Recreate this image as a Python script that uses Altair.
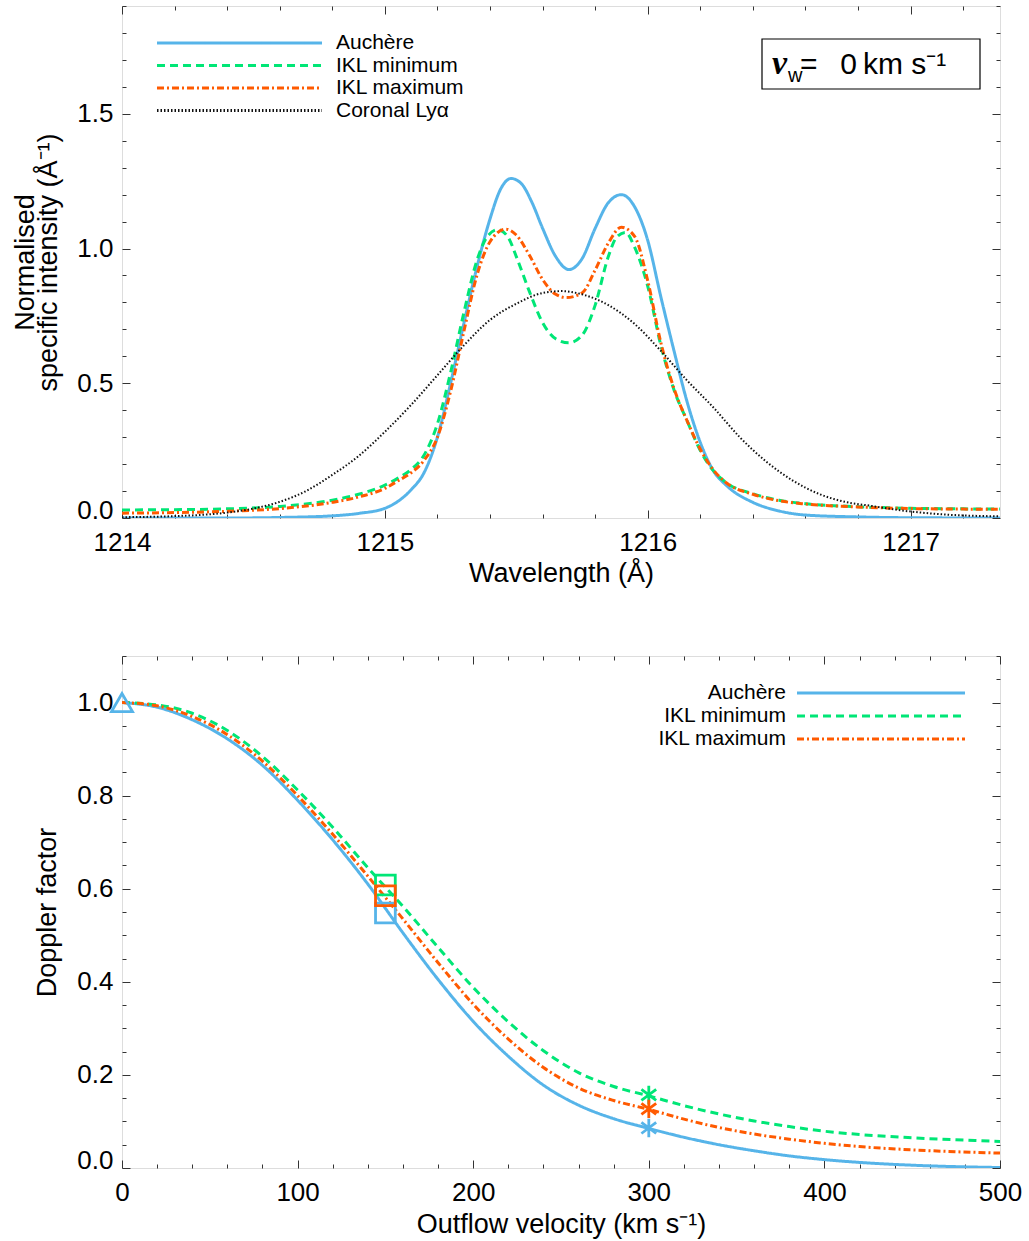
import altair as alt
import pandas as pd

FONT = "Liberation Sans"

# ---------------- top panel: line profiles ----------------
top_series = ["Auchère", "IKL minimum", "IKL maximum", "Coronal Lyα"]
top_colors = ["#56B4E9", "#00E676", "#FF5A00", "#111111"]
top_dashes = [[1, 0], [8, 5], [7, 3, 2, 3], [1.5, 2]]

auchere_wl = [1214.0, 1214.4, 1214.6, 1214.8, 1214.9, 1215.0, 1215.05, 1215.1, 1215.15, 1215.2,
              1215.25, 1215.3, 1215.35, 1215.4, 1215.44, 1215.48, 1215.52, 1215.56, 1215.6, 1215.65,
              1215.7, 1215.75, 1215.8, 1215.85, 1215.9, 1215.95, 1216.0, 1216.05, 1216.1, 1216.15,
              1216.2, 1216.25, 1216.3, 1216.4, 1216.5, 1216.6, 1216.8, 1217.0, 1217.34]
auchere_int = [0.0, 0.0, 0.002, 0.008, 0.017, 0.036, 0.062, 0.105, 0.17, 0.30,
               0.50, 0.72, 0.93, 1.11, 1.22, 1.26, 1.24, 1.17, 1.075, 0.97,
               0.922, 0.962, 1.075, 1.17, 1.20, 1.155, 1.03, 0.82, 0.62, 0.43,
               0.28, 0.175, 0.12, 0.058, 0.026, 0.011, 0.004, 0.001, 0.0]

iklmin_wl = [1214.0, 1214.2, 1214.4, 1214.6, 1214.8, 1214.9, 1215.0, 1215.05, 1215.1, 1215.15,
             1215.2, 1215.25, 1215.3, 1215.35, 1215.39, 1215.43, 1215.47, 1215.5, 1215.55, 1215.6,
             1215.65, 1215.7, 1215.75, 1215.8, 1215.85, 1215.88, 1215.915, 1215.95, 1216.0, 1216.05,
             1216.1, 1216.15, 1216.2, 1216.25, 1216.3, 1216.4, 1216.5, 1216.6, 1216.8, 1217.0,
             1217.2, 1217.34]
iklmin_int = [0.030, 0.031, 0.034, 0.043, 0.066, 0.088, 0.122, 0.148, 0.18, 0.235,
              0.35, 0.54, 0.76, 0.955, 1.045, 1.07, 1.04, 0.97, 0.84, 0.725,
              0.665, 0.65, 0.678, 0.79, 0.97, 1.04, 1.06, 1.005, 0.86, 0.64,
              0.475, 0.36, 0.25, 0.175, 0.13, 0.09, 0.066, 0.053, 0.042, 0.036,
              0.034, 0.033]

iklmax_wl = [1214.0, 1214.2, 1214.4, 1214.6, 1214.8, 1214.9, 1215.0, 1215.05, 1215.1, 1215.15,
             1215.2, 1215.25, 1215.3, 1215.35, 1215.4, 1215.46, 1215.5, 1215.55, 1215.6, 1215.65,
             1215.69, 1215.75, 1215.8, 1215.85, 1215.9, 1215.95, 1216.0, 1216.05, 1216.1, 1216.15,
             1216.2, 1216.25, 1216.3, 1216.4, 1216.5, 1216.6, 1216.8, 1217.0, 1217.2, 1217.34]
iklmax_int = [0.018, 0.020, 0.025, 0.035, 0.058, 0.078, 0.11, 0.138, 0.168, 0.215,
              0.30, 0.47, 0.69, 0.90, 1.025, 1.072, 1.05, 0.975, 0.885, 0.83,
              0.818, 0.835, 0.92, 1.02, 1.079, 1.045, 0.88, 0.65, 0.48, 0.36,
              0.255, 0.178, 0.13, 0.088, 0.064, 0.052, 0.041, 0.035, 0.033, 0.032]

corona_wl = [1214.0, 1214.2, 1214.4, 1214.5, 1214.6, 1214.7, 1214.8, 1214.9, 1215.0, 1215.1,
             1215.2, 1215.3, 1215.4, 1215.5, 1215.6, 1215.67, 1215.75, 1215.85, 1215.95, 1216.05,
             1216.15, 1216.25, 1216.35, 1216.45, 1216.55, 1216.65, 1216.75, 1216.85, 1216.95, 1217.1,
             1217.34]
corona_int = [0.003, 0.007, 0.02, 0.035, 0.06, 0.10, 0.16, 0.23, 0.32, 0.42,
              0.53, 0.64, 0.735, 0.795, 0.835, 0.842, 0.83, 0.79, 0.72, 0.62,
              0.51, 0.41, 0.30, 0.21, 0.14, 0.09, 0.06, 0.045, 0.03, 0.015,
              0.006]

# ---------------- bottom panel: Doppler factor ----------------
bot_series = ["Auchère", "IKL minimum", "IKL maximum"]
bot_colors = ["#56B4E9", "#00E676", "#FF5A00"]
bot_dashes = [[1, 0], [8, 5], [7, 3, 2, 3]]

velocity = [0, 20, 40, 60, 80, 100, 120, 140, 160, 180, 200, 220, 240, 260, 280, 300,
            320, 340, 360, 380, 400, 420, 450, 500]
dop_auchere = [1.0, 0.99, 0.963, 0.922, 0.865, 0.79, 0.705, 0.61, 0.505, 0.405, 0.315, 0.24,
               0.178, 0.135, 0.106, 0.085, 0.066, 0.05, 0.037, 0.026, 0.018, 0.012, 0.006, 0.001]
dop_iklmin = [1.0, 0.995, 0.977, 0.94, 0.884, 0.812, 0.732, 0.645, 0.562, 0.474, 0.388, 0.314,
              0.252, 0.205, 0.175, 0.155, 0.134, 0.116, 0.101, 0.089, 0.079, 0.072, 0.065, 0.057]
dop_iklmax = [1.0, 0.993, 0.97, 0.931, 0.874, 0.80, 0.717, 0.627, 0.535, 0.441, 0.352, 0.277,
              0.216, 0.172, 0.145, 0.126, 0.105, 0.087, 0.073, 0.062, 0.053, 0.046, 0.039, 0.032]

marker_series = ["Auchère", "Auchère", "IKL minimum", "IKL maximum", "Auchère", "IKL minimum", "IKL maximum"]
marker_kind = ["start", "mid", "mid", "mid", "end", "end", "end"]
marker_v = [0, 150, 150, 150, 300, 300, 300]
marker_d = [1.0, 0.548, 0.608, 0.585, 0.086, 0.157, 0.127]

# tick values
xt_vals = [1214.0, 1214.2, 1214.4, 1214.6, 1214.8, 1215.0, 1215.2, 1215.4, 1215.6, 1215.8,
           1216.0, 1216.2, 1216.4, 1216.6, 1216.8, 1217.0, 1217.2]
yt_vals = [0.0, 0.1, 0.2, 0.3, 0.4, 0.5, 0.6, 0.7, 0.8, 0.9, 1.0, 1.1, 1.2, 1.3, 1.4, 1.5,
           1.6, 1.7, 1.8, 1.9]
xb_vals = [0, 20, 40, 60, 80, 100, 120, 140, 160, 180, 200, 220, 240, 260, 280, 300,
           320, 340, 360, 380, 400, 420, 440, 460, 480, 500]
yb_vals = [0.0, 0.05, 0.1, 0.15, 0.2, 0.25, 0.3, 0.35, 0.4, 0.45, 0.5, 0.55, 0.6, 0.65, 0.7,
           0.75, 0.8, 0.85, 0.9, 0.95, 1.0, 1.05, 1.1]

annot_nu = ["ν"]
annot_sub = ["w"]
annot_rest = ["=\u00a0\u00a0\u20090\u2009km s⁻¹"]

W, H = 878, 512
MAJ, MIN = 8, 4
TICKC = "#333333"


def dash_cond(test, L):
    return {"condition": {"test": test, "value": [MAJ, L - 2 * MAJ, MAJ, L]},
            "value": [MIN, L - 2 * MIN, MIN, L]}


def mk_axis(values, major_test, label_fmt, length, title, **kw):
    base = dict(values=values,
                labelExpr=f"({major_test}) ? format(datum.value, '{label_fmt}') : ''",
                grid=True, gridDash=dash_cond(major_test, length), gridColor=TICKC,
                gridWidth=1, gridOpacity=1, ticks=False, domain=False,
                labelFlush=False, labelOverlap=False, labelBound=False,
                labelFontSize={"condition": {"test": major_test, "value": 26}, "value": 0},
                labelFont=FONT,
                labelColor="black", title=title, titleFontSize=27, titleFont=FONT,
                titleFontWeight="normal", titleColor="black")
    base.update(kw)
    return alt.Axis(**base)


def line_path(length, size):
    half = length / 2 / (size ** 0.5 / 2)
    return f"M{-half:.3f},0L{half:.3f},0"


# ---------- build top ----------
rows = []
for name, wl, it in [("Auchère", auchere_wl, auchere_int), ("IKL minimum", iklmin_wl, iklmin_int),
                     ("IKL maximum", iklmax_wl, iklmax_int), ("Coronal Lyα", corona_wl, corona_int)]:
    for a, b in zip(wl, it):
        rows.append({"series": name, "wl": a, "inten": b})
df_top = pd.DataFrame(rows)

int_test = "abs(datum.value - round(datum.value)) < 1e-6"
half_test = "abs(datum.value * 2 - round(datum.value * 2)) < 1e-6"
fifth_test = "abs(datum.value * 5 - round(datum.value * 5)) < 1e-6"
hund_test = "abs(datum.value / 100 - round(datum.value / 100)) < 1e-6"
zero_base = {"condition": {"test": "abs(datum.value) < 1e-9", "value": "alphabetic"}, "value": "middle"}

x_top = alt.X("wl:Q", scale=alt.Scale(domain=[1214, 1217.34], nice=False, zero=False),
              axis=mk_axis(xt_vals, int_test, "d", H, "Wavelength (Å)",
                           labelPadding=11, titleY=63, titleBaseline="alphabetic"))
y_top = alt.Y("inten:Q", scale=alt.Scale(domain=[0, 1.9], nice=False, zero=False),
              axis=mk_axis(yt_vals, half_test, ".1f", W,
                           ["Normalised", "specific intensity (Å⁻¹)"],
                           labelPadding=9, labelBaseline=zero_base,
                           titleX=-89, titleY=H / 2, titleAngle=270, titleAlign="center",
                           titleBaseline="alphabetic", titleLineHeight=23))

SYM = 324
leg_top = alt.Legend(title=None, orient="none", legendX=107, legendY=26.5,
                     symbolType=line_path(165, SYM), symbolSize=SYM, symbolStrokeWidth=3,
                     symbolFillColor="transparent",
                     labelFontSize=21, labelFont=FONT, labelColor="black", labelOffset=86,
                     rowPadding=0.5, padding=0, labelLimit=400)

color_top = alt.Color("series:N", scale=alt.Scale(domain=top_series, range=top_colors), legend=leg_top)
dash_top = alt.StrokeDash("series:N", scale=alt.Scale(domain=top_series, range=top_dashes), legend=leg_top)

lines_top = alt.Chart(df_top).transform_filter(alt.datum.series != "Coronal Lyα").mark_line(
    interpolate="monotone", strokeWidth=3, clip=True).encode(x=x_top, y=y_top, color=color_top, strokeDash=dash_top)
line_cor = alt.Chart(df_top).transform_filter(alt.datum.series == "Coronal Lyα").mark_line(
    interpolate="monotone", strokeWidth=2, clip=True).encode(x=x_top, y=y_top, color=color_top, strokeDash=dash_top)

box = alt.Chart(pd.DataFrame({"k": [0]})).mark_rect(fillOpacity=0, stroke="black", strokeWidth=1.2).encode(
    x=alt.value(640), x2=alt.value(858), y=alt.value(33), y2=alt.value(83))
t_nu = alt.Chart(pd.DataFrame({"t": annot_nu})).mark_text(
    font="Liberation Serif", fontStyle="italic", fontWeight="bold", fontSize=34, align="left",
    baseline="alphabetic", color="black").encode(text="t:N", x=alt.value(650), y=alt.value(68))
t_sub = alt.Chart(pd.DataFrame({"t": annot_sub})).mark_text(
    font=FONT, fontSize=20, align="left", baseline="alphabetic", color="black").encode(
    text="t:N", x=alt.value(666), y=alt.value(76))
t_rest = alt.Chart(pd.DataFrame({"t": annot_rest})).mark_text(
    font=FONT, fontSize=30, align="left", baseline="alphabetic", color="black").encode(
    text="t:N", x=alt.value(678), y=alt.value(68))

top = alt.layer(lines_top, line_cor, box, t_nu, t_sub, t_rest).properties(width=W, height=H)

# ---------- build bottom ----------
rows = []
for name, ds in [("Auchère", dop_auchere), ("IKL minimum", dop_iklmin), ("IKL maximum", dop_iklmax)]:
    for v, d in zip(velocity, ds):
        rows.append({"series": name, "v": v, "dop": d})
df_bot = pd.DataFrame(rows)
df_mk = pd.DataFrame({"series": marker_series, "kind": marker_kind, "v": marker_v, "dop": marker_d})

x_bot = alt.X("v:Q", scale=alt.Scale(domain=[0, 500], nice=False, zero=False),
              axis=mk_axis(xb_vals, hund_test, "d", H, "Outflow velocity (km s⁻¹)",
                           labelPadding=11, titleY=64, titleBaseline="alphabetic"))
y_bot = alt.Y("dop:Q", scale=alt.Scale(domain=[0, 1.1], nice=False, zero=False),
              axis=mk_axis(yb_vals, fifth_test, ".1f", W, "Doppler factor",
                           labelPadding=9, labelBaseline=zero_base,
                           titleX=-67, titleY=H / 2, titleAngle=270, titleAlign="center",
                           titleBaseline="alphabetic"))

leg_bot = alt.Legend(title=None, orient="none", legendX=748.5, legendY=26.5,
                     symbolType=line_path(168, SYM), symbolSize=SYM, symbolStrokeWidth=3,
                     symbolFillColor="transparent",
                     labelExpr="indexof(datum.label, 'Auch') == 0 ? datum.label + '\u2003\u2003' : datum.label",
                     labelFontSize=21, labelFont=FONT, labelColor="black",
                     labelOffset={"expr": "-105.5"}, labelAlign="right",
                     rowPadding=1, padding=0, labelLimit=400)

color_bot = alt.Color("series:N", scale=alt.Scale(domain=bot_series, range=bot_colors), legend=leg_bot)
lines_bot = alt.Chart(df_bot).mark_line(interpolate="monotone", strokeWidth=3, clip=True).encode(
    x=x_bot, y=y_bot, color=color_bot,
    strokeDash=alt.StrokeDash("series:N", scale=alt.Scale(domain=bot_series, range=bot_dashes), legend=leg_bot),
)

ASTERISK = "M0,-1L0,1M-0.8,-0.6L0.8,0.6M-0.8,0.6L0.8,-0.6"
pts = alt.Chart(df_mk).mark_point(filled=False, strokeWidth=2.8, opacity=1).encode(
    x=x_bot, y=y_bot,
    color=alt.Color("series:N", scale=alt.Scale(domain=bot_series, range=bot_colors), legend=leg_bot),
    shape=alt.Shape("kind:N", scale=alt.Scale(domain=["start", "mid", "end"],
                                              range=["triangle-up", "square", ASTERISK]), legend=None),
    size=alt.Size("kind:N", scale=alt.Scale(domain=["start", "mid", "end"], range=[440, 340, 560]), legend=None),
)

bottom = alt.layer(lines_bot, pts).properties(width=W, height=H)

chart = alt.vconcat(top, bottom, spacing=138, bounds="flush").resolve_scale(
    color="independent", strokeDash="independent", shape="independent", size="independent",
    x="independent", y="independent"
).properties(
    padding={"left": 10, "top": 5, "right": 5, "bottom": 2}, background="white"
).configure_view(stroke="#333333", strokeWidth=1.5).configure(font=FONT)

chart.save("out.html", embed_options={"renderer": "svg", "actions": False})
